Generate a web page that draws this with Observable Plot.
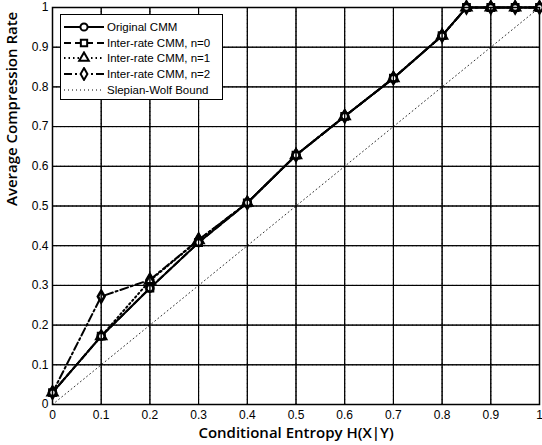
<!DOCTYPE html>
<html>
<head>
<meta charset="utf-8">
<script src="https://cdn.jsdelivr.net/npm/d3@7"></script>
<script src="https://cdn.jsdelivr.net/npm/@observablehq/plot@0.6"></script>
<style>
  html, body { margin: 0; padding: 0; background: #fff; }
  #wrap { position: relative; width: 542px; height: 445px; }
  #legend { position: absolute; left: 60px; top: 14px; width: 163px; height: 86px;
    border: 1.5px solid #000; background: #fff; font-family: "Liberation Sans", Arial, sans-serif;
    font-size: 11.5px; box-sizing: border-box; padding-top: 4px; }
  .row { display: flex; align-items: center; height: 15.8px; }
  .row svg { width: 46px; height: 14px; flex: none; }
  .row span { margin-left: 0px; white-space: nowrap; }
</style>
</head>
<body>
<div id="wrap"></div>
<script>
// Data
const xs       = [0, 0.1, 0.2, 0.3, 0.4, 0.5, 0.6, 0.7, 0.8, 0.85, 0.9, 0.95, 1];
const original = [0.03, 0.172, 0.293, 0.408, 0.508, 0.628, 0.726, 0.822, 0.929, 1, 1, 1, 1];
const rateN0   = [0.03, 0.172, 0.293, 0.408, 0.508, 0.628, 0.726, 0.822, 0.929, 1, 1, 1, 1];
const rateN1   = [0.03, 0.172, 0.312, 0.414, 0.508, 0.628, 0.726, 0.822, 0.929, 1, 1, 1, 1];
const rateN2   = [0.03, 0.272, 0.314, 0.415, 0.508, 0.628, 0.726, 0.822, 0.929, 1, 1, 1, 1];
const swX = [0, 1];
const swY = [0, 1];
const ticks = [0, 0.1, 0.2, 0.3, 0.4, 0.5, 0.6, 0.7, 0.8, 0.9, 1];
const seriesNames = ["Original CMM", "Inter-rate CMM, n=0", "Inter-rate CMM, n=1", "Inter-rate CMM, n=2", "Slepian-Wolf Bound"];

const series = [
  {name: seriesNames[0], vals: original, dash: null, symbol: "circle"},
  {name: seriesNames[1], vals: rateN0, dash: "7,4", symbol: "square"},
  {name: seriesNames[2], vals: rateN1, dash: "1.5,3", symbol: "triangle"},
  {name: seriesNames[3], vals: rateN2, dash: "8,3,2,3", symbol: "diamond"}
];
const rows = s => xs.map((x, i) => ({x, y: s.vals[i]}));
const sw = swX.map((x, i) => ({x, y: swY[i]}));

const tickFmt = d => String(d);
const inner = ticks.slice(1, -1);

const marks = [
  Plot.ruleX(inner, {x: d => d, stroke: "#000", strokeOpacity: 0.75, strokeDasharray: "1,3", strokeWidth: 1}),
  Plot.ruleY(inner, {y: d => d, stroke: "#000", strokeOpacity: 0.75, strokeDasharray: "1,3", strokeWidth: 1}),
  Plot.line(sw, {x: "x", y: "y", stroke: "#000", strokeOpacity: 0.8, strokeWidth: 1, strokeDasharray: "1,3"}),
];
for (const s of series.slice().reverse()) {
  marks.push(Plot.line(rows(s), {x: "x", y: "y", stroke: "#000", strokeWidth: 2, strokeDasharray: s.dash}));
}
for (const s of series.slice().reverse()) {
  marks.push(Plot.dot(rows(s), {x: "x", y: "y", symbol: () => s.symbol, r: 3.5, fill: "#fff", stroke: "#000", strokeWidth: 2.6}));
}
marks.push(
  Plot.axisX({ticks, tickSize: 0, tickPadding: 6, tickFormat: tickFmt, fontSize: 12, label: null}),
  Plot.axisY({ticks, tickSize: 0, tickPadding: 4, tickFormat: tickFmt, fontSize: 12, label: null}),
  Plot.tickX(ticks, {x: d => d, y1: 0, y2: 0.012, stroke: "#000"}),
  Plot.tickX(ticks, {x: d => d, y1: 0.988, y2: 1, stroke: "#000"}),
  Plot.tickY(ticks, {y: d => d, x1: 0, x2: 0.01, stroke: "#000"}),
  Plot.tickY(ticks, {y: d => d, x1: 0.99, x2: 1, stroke: "#000"}),
  Plot.frame({stroke: "#000", strokeWidth: 1.5}),
  Plot.text(["Conditional Entropy H(X|Y)"], {frameAnchor: "bottom", dy: 33, text: d => d, fontSize: 15, fontWeight: 600, fontFamily: "Open Sans", fill: "#000"}),
  Plot.text(["Average Compression Rate"], {frameAnchor: "left", dx: -40, rotate: -90, text: d => d, fontSize: 15, fontWeight: 600, fontFamily: "Open Sans", fill: "#000"})
);

const chart = Plot.plot({
  width: 542,
  height: 445,
  marginLeft: 52,
  marginRight: 3,
  marginTop: 7,
  marginBottom: 41,
  style: {fontFamily: "'Liberation Sans', Arial, sans-serif", fontSize: "12px", color: "#000", background: "#fff"},
  x: {domain: [0, 1]},
  y: {domain: [0, 1]},
  marks
});
const wrap = document.getElementById("wrap");
wrap.appendChild(chart);

// Legend overlay
const legend = document.createElement("div");
legend.id = "legend";
const styles = [...series.map(s => ({dash: s.dash, symbol: s.symbol, w: 2})), {dash: "1,3", symbol: null, w: 1}];
seriesNames.forEach((name, i) => {
  const st = styles[i];
  const row = document.createElement("div");
  row.className = "row";
  const svg = d3.create("svg").attr("viewBox", "0 0 46 14");
  svg.append("line").attr("x1", 3).attr("x2", 43).attr("y1", 7).attr("y2", 7)
    .attr("stroke", "#000").attr("stroke-width", st.w).attr("stroke-dasharray", st.dash);
  if (st.symbol) {
    const sym = {circle: d3.symbolCircle, square: d3.symbolSquare, triangle: d3.symbolTriangle, diamond: d3.symbolDiamond}[st.symbol];
    svg.append("path").attr("d", d3.symbol(sym, 40)).attr("transform", "translate(23,7)")
      .attr("fill", "#fff").attr("stroke", "#000").attr("stroke-width", 2);
  }
  row.appendChild(svg.node());
  const sp = document.createElement("span");
  sp.textContent = name;
  row.appendChild(sp);
  legend.appendChild(row);
});
wrap.appendChild(legend);
</script>
</body>
</html>
